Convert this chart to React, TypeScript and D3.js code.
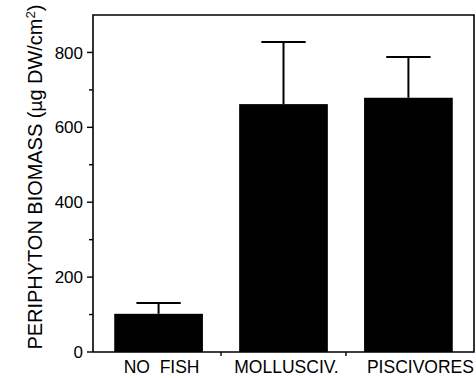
import * as d3 from "d3";
import { useEffect, useRef } from "react";

const categories = ["NO  FISH", "MOLLUSCIV.", "PISCIVORES"];
const biomass = [102, 662, 679];
const errors = [29, 166, 109];
const yTicks = [0, 200, 400, 600, 800];
const yMinorTicks = [100, 300, 500, 700];

const font = "'Liberation Sans', Arial, Helvetica, sans-serif";

export default function App() {
  const ref = useRef<SVGSVGElement>(null);
  const width = 476;
  const height = 378;

  useEffect(() => {
    if (!ref.current) return;
    const svg = d3.select(ref.current);
    svg.selectAll("*").remove();

    const left = 93;
    const right = 474;
    const top = 15;
    const bottom = 352;

    const x = d3
      .scaleBand<string>()
      .domain(categories)
      .range([left, right])
      .paddingInner(0.29)
      .paddingOuter(0.17);

    const y = d3.scaleLinear().domain([0, 900]).range([bottom, top]);

    const data = categories.map((c, i) => ({ c, v: biomass[i], e: errors[i] }));

    // bars
    svg
      .append("g")
      .selectAll("rect")
      .data(data)
      .join("rect")
      .attr("x", (d) => x(d.c) ?? 0)
      .attr("y", (d) => y(d.v))
      .attr("width", x.bandwidth())
      .attr("height", (d) => y(0) - y(d.v))
      .attr("fill", "#000");

    // upper error bars
    const eb = svg.append("g").attr("stroke", "#000").attr("stroke-width", 2);
    data.forEach((d) => {
      const cx = (x(d.c) ?? 0) + x.bandwidth() / 2;
      const cap = x.bandwidth() / 4;
      eb.append("line").attr("x1", cx).attr("x2", cx).attr("y1", y(d.v)).attr("y2", y(d.v + d.e));
      eb.append("line")
        .attr("x1", cx - cap)
        .attr("x2", cx + cap)
        .attr("y1", y(d.v + d.e))
        .attr("y2", y(d.v + d.e));
    });

    // frame
    const frame = svg.append("g").attr("stroke", "#000").attr("stroke-width", 1.6).attr("fill", "none");
    frame.append("path").attr("d", `M${left},${bottom}V${top}H${right}V${bottom}H${left}`);

    // y ticks
    const yAxis = svg.append("g").attr("stroke", "#000").attr("stroke-width", 1.4);
    yTicks.forEach((t) => {
      yAxis.append("line").attr("x1", left - 6).attr("x2", left).attr("y1", y(t)).attr("y2", y(t));
    });
    yMinorTicks.forEach((t) => {
      yAxis.append("line").attr("x1", left - 4).attr("x2", left).attr("y1", y(t)).attr("y2", y(t));
    });

    svg
      .append("g")
      .selectAll("text")
      .data(yTicks)
      .join("text")
      .attr("x", left - 10)
      .attr("y", (d) => y(d))
      .attr("dy", "0.36em")
      .attr("text-anchor", "end")
      .style("font-family", font)
      .style("font-size", "17px")
      .text((d) => d);

    // x boundary ticks
    const step = x.step();
    const xt = svg.append("g").attr("stroke", "#000").attr("stroke-width", 1.4);
    categories.slice(1).forEach((c) => {
      const bx = (x(c) ?? 0) - (step - x.bandwidth()) / 2;
      xt.append("line").attr("x1", bx).attr("x2", bx).attr("y1", bottom).attr("y2", bottom + 4);
    });

    // x labels
    svg
      .append("g")
      .selectAll("text")
      .data(categories)
      .join("text")
      .attr("x", (d, i) => (x(d) ?? 0) + x.bandwidth() / 2 + (i === 2 ? 12 : 3))
      .attr("y", 373)
      .attr("text-anchor", "middle")
      .style("font-family", font)
      .style("font-size", "17.5px")
      .style("white-space", "pre")
      .text((d) => d);

    // y label
    const yl = svg
      .append("text")
      .attr("transform", `translate(42,177) rotate(-90)`)
      .attr("text-anchor", "middle")
      .attr("textLength", 345)
      .attr("lengthAdjust", "spacingAndGlyphs")
      .style("font-family", font)
      .style("font-size", "19.5px");
    yl.append("tspan").text("PERIPHYTON BIOMASS (");
    yl.append("tspan").style("font-family", "'DejaVu Sans', sans-serif").style("font-size", "17px").text("μ");
    yl.append("tspan").text("g DW/cm");
    yl.append("tspan").attr("dy", -7).style("font-size", "13px").text("2");
    yl.append("tspan").attr("dy", 7).text(")");
  }, []);

  return (
    <svg
      ref={ref}
      width={width}
      height={height}
      style={{ position: "absolute", left: 0, top: 0, background: "#fff", display: "block" }}
    />
  );
}
